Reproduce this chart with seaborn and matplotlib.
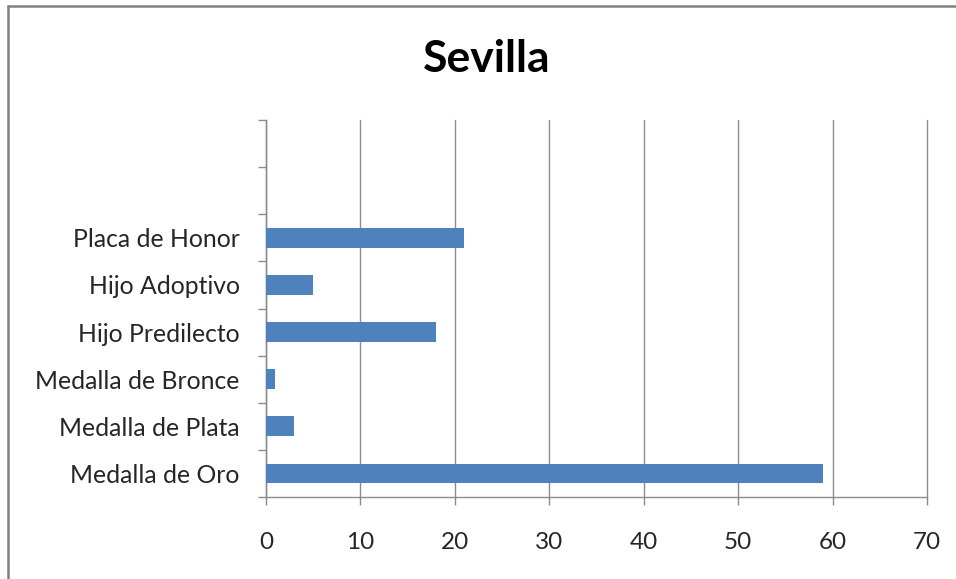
import matplotlib
matplotlib.use("Agg")
import matplotlib.pyplot as plt
from matplotlib.lines import Line2D
from matplotlib.ticker import FixedLocator
import numpy as np
import pandas as pd
import seaborn as sns

# categories from top to bottom (two empty slots at the top, as in the original)
categorias = ["", " ", "Placa de Honor", "Hijo Adoptivo", "Hijo Predilecto",
              "Medalla de Bronce", "Medalla de Plata", "Medalla de Oro"]
valores = [np.nan, np.nan, 21, 5, 18, 1, 3, 59]
x_ticks = [0, 10, 20, 30, 40, 50, 60, 70]

sns.set_theme(style="white")
plt.rcParams['font.family'] = ['Lato', 'DejaVu Sans']

df = pd.DataFrame({"Categoria": categorias, "Valor": valores})

fig = plt.figure(figsize=(9.56, 5.79), dpi=100)
ax = fig.add_axes([266 / 956, 1 - 497 / 579, (927 - 266) / 956, (497 - 120) / 579])

sns.barplot(data=df, y="Categoria", x="Valor", order=categorias, orient="h",
            color="#4F81BD", saturation=1, width=0.42, linewidth=0, ax=ax, zorder=3)

ax.set_xlim(0, 70)
ax.set_ylim(len(categorias) - 0.5, -0.5)
ax.set_xticks(x_ticks)
ax.set_xticklabels([str(t) for t in x_ticks])
ax.xaxis.grid(True, color="#8C8C8C", linewidth=1, zorder=0)
for gl in ax.get_xgridlines():
    gl.set_clip_on(False)
ax.set_axisbelow(True)

# Excel style: tick marks between categories, labels centred on the bars
ax.yaxis.set_major_locator(FixedLocator(np.arange(-0.5, len(categorias), 1.0)))
ax.yaxis.set_minor_locator(FixedLocator(np.arange(len(categorias))))
ax.set_yticklabels([], minor=False)
ax.set_yticklabels(categorias, minor=True)
ax.tick_params(axis="y", which="major", length=6, width=1, color="#8C8C8C", direction="out", left=True)
ax.tick_params(axis="y", which="minor", length=0, pad=19, labelsize=17.8, labelcolor="#262626")
ax.tick_params(axis="x", length=6, width=1, color="#8C8C8C", direction="out", bottom=True,
               pad=19, labelsize=17.5, labelcolor="#262626")

ax.set_xlabel("")
ax.set_ylabel("")
for s in ["top", "right"]:
    ax.spines[s].set_visible(False)
for s in ["left", "bottom"]:
    ax.spines[s].set_color("#8C8C8C")
    ax.spines[s].set_linewidth(1)

fig.text(0.509, 0.898, "Sevilla", ha="center", va="center", fontsize=32, fontweight="bold", color="black")

# chart frame (only left and top edges are visible in the crop)
fig.add_artist(Line2D([8 / 956, 8 / 956], [0, 1 - 6 / 579], transform=fig.transFigure, color="#808080", linewidth=1.8))
fig.add_artist(Line2D([8 / 956, 1], [1 - 6 / 579, 1 - 6 / 579], transform=fig.transFigure, color="#808080", linewidth=1.8))

fig.savefig("out.png", dpi=100)
